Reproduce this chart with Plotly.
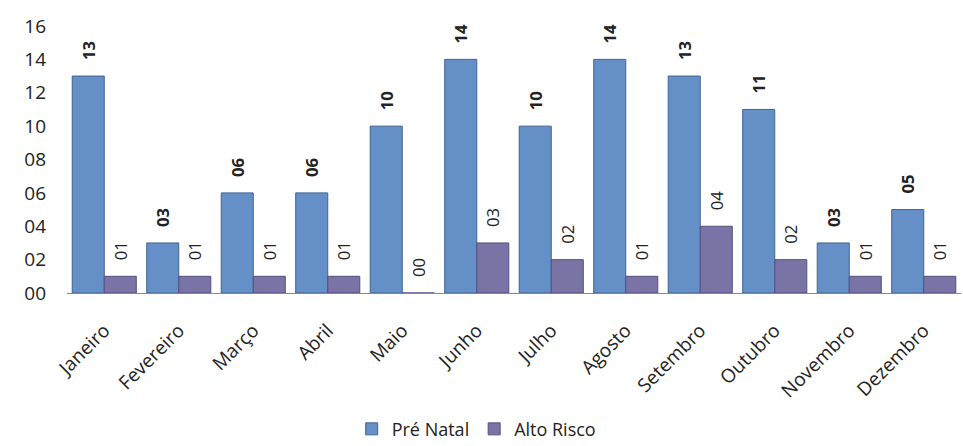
import plotly.graph_objects as go

months = ["Janeiro", "Fevereiro", "Março", "Abril", "Maio", "Junho", "Julho",
          "Agosto", "Setembro", "Outubro", "Novembro", "Dezembro"]
pre_natal = [13, 3, 6, 6, 10, 14, 10, 14, 13, 11, 3, 5]
alto_risco = [1, 1, 1, 1, 0, 3, 2, 1, 4, 2, 1, 1]
y_ticks = [0, 2, 4, 6, 8, 10, 12, 14, 16]

FONT = "Open Sans"
PAD = "\u00a0\u00a0\u00a0"

fig = go.Figure()
fig.add_trace(go.Bar(
    x=months, y=pre_natal, name="Pré Natal",
    marker=dict(color="#6590C7", line=dict(color="#3F6390", width=1)),
    texttemplate=PAD + "<b>%{y:02d}</b>", textposition="outside", textangle=-90,
    textfont=dict(family=FONT, size=18, color="#222222"), cliponaxis=False,
))
fig.add_trace(go.Bar(
    x=months, y=alto_risco, name="Alto Risco",
    marker=dict(color="#7A73A6", line=dict(color="#554F80", width=1)),
    texttemplate=PAD + "%{y:02d}", textposition="outside", textangle=-90,
    textfont=dict(family=FONT, size=18, color="#222222"), cliponaxis=False,
))

fig.update_layout(
    width=963, height=446,
    margin=dict(l=67, r=2, t=26, b=153, autoexpand=False),
    paper_bgcolor="white", plot_bgcolor="white",
    barmode="group", bargap=0.14, bargroupgap=0,
    font=dict(family=FONT, size=18, color="#222222"),
    showlegend=True,
    legend=dict(orientation="h", x=0.495, xanchor="center", xref="container",
                y=-0.51, yanchor="middle", yref="paper",
                font=dict(family=FONT, size=18),
                traceorder="normal"),
    uniformtext=dict(minsize=10, mode="show"),
)
fig.update_xaxes(tickangle=-45, showline=True, linecolor="#888888", linewidth=1,
                 ticks="", tickfont=dict(family=FONT, size=19), automargin=False,
                 ticklabelstandoff=18)
fig.update_yaxes(range=[0, 16], tickvals=y_ticks, tickformat="02d",
                 showgrid=False, zeroline=False, showline=False, ticks="",
                 tickfont=dict(family=FONT, size=19), automargin=False,
                 ticklabelstandoff=20)

fig.write_html("out.html", config={"displayModeBar": False},
               post_script="document.body.style.margin='0';")
